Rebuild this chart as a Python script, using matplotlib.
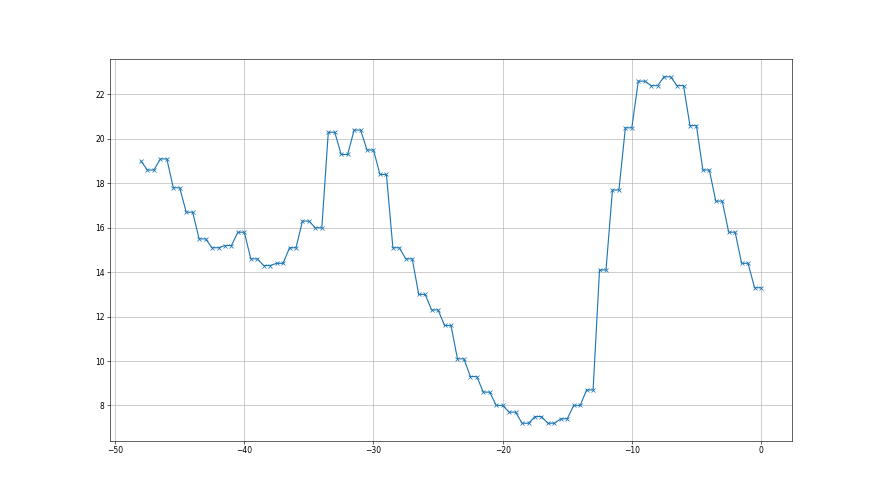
import numpy as np
import matplotlib
matplotlib.use('Agg')
import matplotlib.pyplot as plt

# x runs from -48 to 0 in half steps
x = np.arange(-48, 0.01, 0.5)

# first point on its own, then each value held for two samples
first_val = 19.0
pair_vals = [18.6, 19.1, 17.8, 16.7, 15.5, 15.1, 15.2, 15.8, 14.6, 14.3,
             14.4, 15.1, 16.3, 16.0, 20.3, 19.3, 20.4, 19.5, 18.4, 15.1,
             14.6, 13.0, 12.3, 11.6, 10.1, 9.3, 8.6, 8.0, 7.7, 7.2,
             7.5, 7.2, 7.4, 8.0, 8.7, 14.1, 17.7, 20.5, 22.6, 22.4,
             22.8, 22.4, 20.6, 18.6, 17.2, 15.8, 14.4, 13.3]

y = [first_val]
for v in pair_vals:
    y.extend([v, v])
y = np.array(y)

plt.figure(figsize=(16, 9), dpi=55)
plt.plot(x, y, marker='x')
plt.grid()
plt.savefig('out.png', dpi=55)
